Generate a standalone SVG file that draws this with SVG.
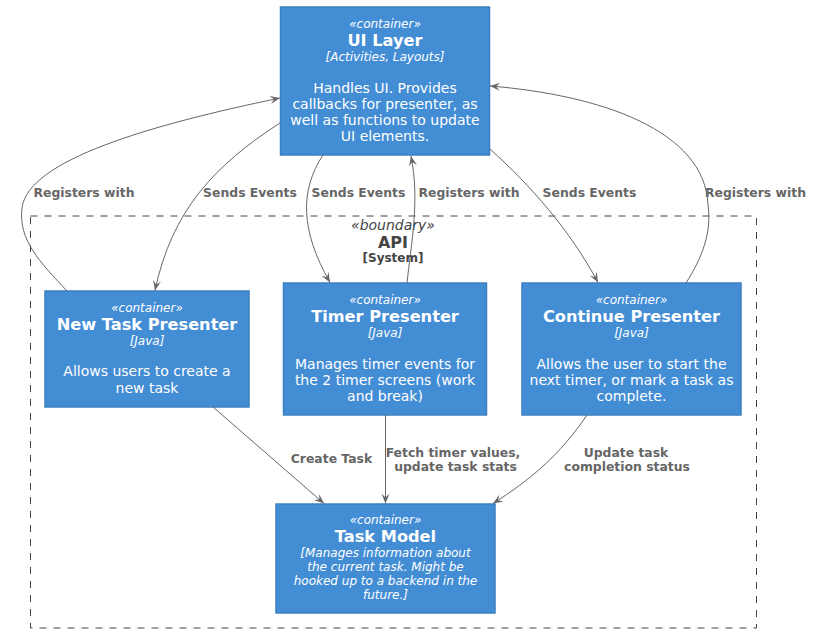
<svg xmlns="http://www.w3.org/2000/svg" width="814" height="633" viewBox="0 0 814 633">
<defs>
<style>
text{font-family:"DejaVu Sans","Liberation Sans",sans-serif;text-anchor:middle}
.box{fill:#438DD5;stroke:#3C7FC0;stroke-width:1.5}
.st{font-size:12px;font-style:italic;fill:#FFFFFF}
.nm{font-size:16.2px;font-weight:bold;fill:#FFFFFF}
.tc{font-size:12px;font-style:italic;fill:#FFFFFF}
.ds{font-size:14px;fill:#FFFFFF}
.bnd{fill:none;stroke:#444444;stroke-width:1;stroke-dasharray:7,7}
.bl{fill:#444444}
.edge{fill:none;stroke:#666666;stroke-width:1;marker-end:url(#ah)}
.el{font-size:12.4px;font-weight:bold;fill:#666666}
</style>
<marker id="ah" viewBox="-11 -5 12 10" refX="0" refY="0" markerWidth="12" markerHeight="10" markerUnits="userSpaceOnUse" orient="auto">
<path d="M0,0 L-10,-4 L-6,0 L-10,4 Z" fill="#666666"/>
</marker>
</defs>
<rect width="814" height="633" fill="#FFFFFF"/>
<g id="boundary-api">
<rect class="bnd" x="30.5" y="216" width="726" height="412"/>
<text class="bl" x="393" y="230" style="font-size:14px;font-style:italic">«boundary»</text>
<text class="bl" x="393" y="247.7" style="font-size:16px;font-weight:bold">API</text>
<text class="bl" x="393" y="261.7" style="font-size:12px;font-weight:bold">[System]</text>
</g>
<g id="ui-layer">
<rect class="box" x="280.5" y="7" width="209" height="148"/>
<text class="st" x="385" y="27.5">«container»</text>
<text class="nm" x="385" y="45.5">UI Layer</text>
<text class="tc" x="385" y="60.5">[Activities, Layouts]</text>
<text class="ds" x="385" y="92.5">Handles UI. Provides</text>
<text class="ds" x="385" y="108.8">callbacks for presenter, as</text>
<text class="ds" x="385" y="125.1">well as functions to update</text>
<text class="ds" x="385" y="141.4">UI elements.</text>
</g>
<g id="new-task-presenter">
<rect class="box" x="45" y="291" width="204" height="116"/>
<text class="st" x="147" y="311.5">«container»</text>
<text class="nm" x="147" y="329.5">New Task Presenter</text>
<text class="tc" x="147" y="344.5">[Java]</text>
<text class="ds" x="147" y="376">Allows users to create a</text>
<text class="ds" x="147" y="392.5">new task</text>
</g>
<g id="timer-presenter">
<rect class="box" x="283.5" y="283" width="203" height="132"/>
<text class="st" x="385" y="303.5">«container»</text>
<text class="nm" x="385" y="321.5">Timer Presenter</text>
<text class="tc" x="385" y="336.5">[Java]</text>
<text class="ds" x="385" y="368.5">Manages timer events for</text>
<text class="ds" x="385" y="384.5">the 2 timer screens (work</text>
<text class="ds" x="385" y="400.5">and break)</text>
</g>
<g id="continue-presenter">
<rect class="box" x="522" y="283" width="219" height="132"/>
<text class="st" x="631.5" y="303.5">«container»</text>
<text class="nm" x="631.5" y="321.5">Continue Presenter</text>
<text class="tc" x="631.5" y="336.5">[Java]</text>
<text class="ds" x="631.5" y="368.5">Allows the user to start the</text>
<text class="ds" x="631.5" y="384.5">next timer, or mark a task as</text>
<text class="ds" x="631.5" y="400.5">complete.</text>
</g>
<g id="task-model">
<rect class="box" x="276" y="504" width="219" height="109"/>
<text class="st" x="385.5" y="524">«container»</text>
<text class="nm" x="385.5" y="541.7">Task Model</text>
<text class="tc" x="385.5" y="557.3">[Manages information about</text>
<text class="tc" x="385.5" y="571.2">the current task. Might be</text>
<text class="tc" x="385.5" y="585.1">hooked up to a backend in the</text>
<text class="tc" x="385.5" y="599">future.]</text>
</g>
<g id="connectors">
<path class="edge" d="M67,291 C40,262 18,240 22,208 C28,160 150,125 280,98"/>
<path class="edge" d="M280,123 C215,165 172,210 155,290.5"/>
<path class="edge" d="M323,155 C300,190 300,230 330,282.5"/>
<path class="edge" d="M407,283 C411,245 420,200 411,156"/>
<path class="edge" d="M490,149 C530,185 570,230 598,282.5"/>
<path class="edge" d="M686,283 C702,258 712,232 708,205 C705,130 600,95 490,86"/>
<path class="edge" d="M213,407 L324,503.5"/>
<path class="edge" d="M385.5,415 L385.5,503.5"/>
<path class="edge" d="M587,415 C560,455 530,480 493,503.5"/>
<text class="el" x="84" y="197">Registers with</text>
<text class="el" x="250" y="197">Sends Events</text>
<text class="el" x="358.5" y="197">Sends Events</text>
<text class="el" x="469" y="197">Registers with</text>
<text class="el" x="589.5" y="197">Sends Events</text>
<text class="el" x="755.5" y="197">Registers with</text>
<text class="el" x="331.5" y="463">Create Task</text>
<text class="el" x="453" y="457">Fetch timer values,</text>
<text class="el" x="455.5" y="471">update task stats</text>
<text class="el" x="626" y="457">Update task</text>
<text class="el" x="627" y="471">completion status</text>
</g>
</svg>
